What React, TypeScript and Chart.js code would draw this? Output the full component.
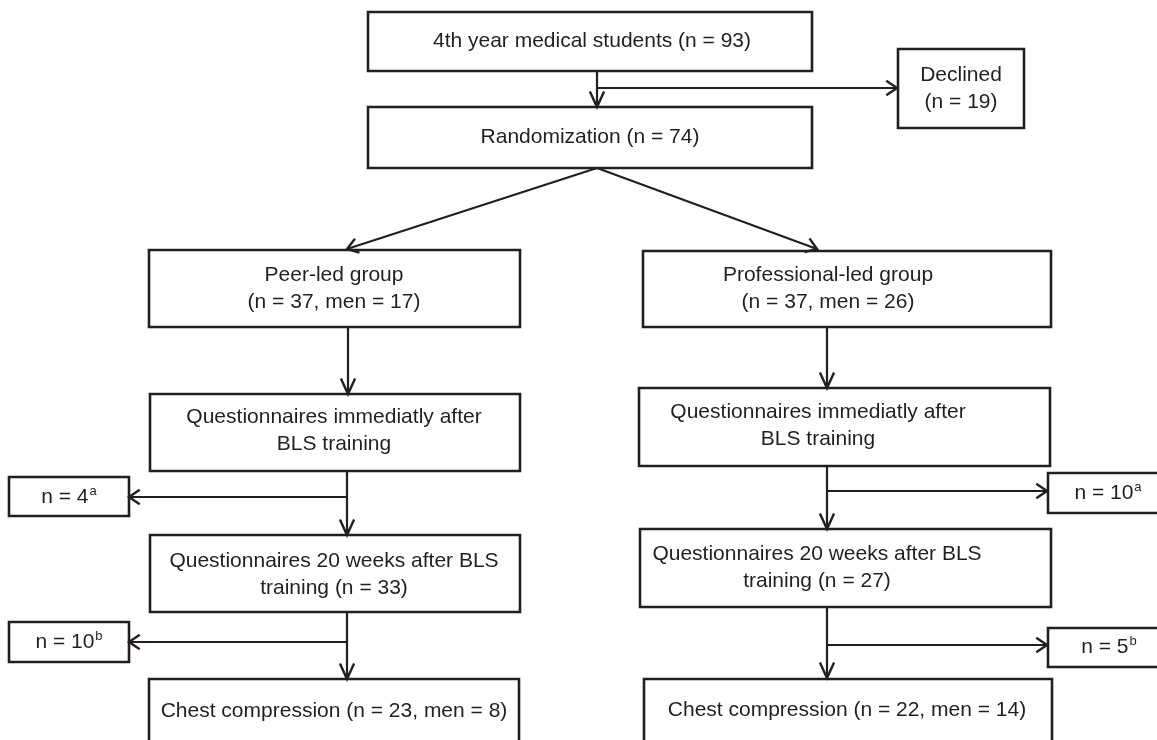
import { useEffect, useRef } from "react";
import { Chart, registerables } from "chart.js";
Chart.register(...registerables);

// ---- Flowchart content (data) ----
const nodeLabels: string[][] = [
  ["4th year medical students (n = 93)"],
  ["Declined", "(n = 19)"],
  ["Randomization (n = 74)"],
  ["Peer-led group", "(n = 37, men = 17)"],
  ["Professional-led group", "(n = 37, men = 26)"],
  ["Questionnaires immediatly after", "BLS training"],
  ["Questionnaires immediatly after", "BLS training"],
  ["n = 4"],
  ["n = 10"],
  ["Questionnaires 20 weeks after BLS", "training (n = 33)"],
  ["Questionnaires 20 weeks after BLS", "training (n = 27)"],
  ["n = 10"],
  ["n = 5"],
  ["Chest compression (n = 23, men = 8)"],
  ["Chest compression (n = 22, men = 14)"],
];
const nodeSup: string[] = ["", "", "", "", "", "", "", "a", "a", "", "", "b", "b", "", ""];

// ---- Layout in chart units (x: 0..1157, y: 0..740 top-down) ----
const nodeLeft: number[] = [368, 898, 368, 149, 643, 150, 639, 9, 1048, 150, 640, 9, 1048, 149, 644];
const nodeRight: number[] = [812, 1024, 812, 520, 1051, 520, 1050, 129, 1172, 520, 1051, 129, 1172, 519, 1052];
const nodeTop: number[] = [12, 49, 107, 250, 251, 394, 388, 477, 473, 535, 529, 622, 628, 679, 679];
const nodeBottom: number[] = [71, 128, 168, 327, 327, 471, 466, 516, 513, 612, 607, 662, 667, 770, 770];
const textCenterX: number[] = [592, 961, 590, 334, 828, 334, 818, 69, 1108, 334, 817, 69, 1109, 334, 847];
const textCenterY: number[] = [41, 88.5, 137.5, 288.5, 288.5, 431, 426, 497, 493, 574.5, 567.5, 642, 647, 711, 710];

// connectors: [x0, y0] -> [x1, y1], each ends with an arrowhead
const edgeX0: number[] = [597, 597, 597, 597, 348, 827, 347, 347, 827, 827, 347, 347, 827, 827];
const edgeY0: number[] = [71, 88, 168, 168, 327, 327, 471, 497, 466, 491, 612, 642, 607, 645];
const edgeX1: number[] = [597, 897, 347, 817, 348, 827, 347, 129, 827, 1047, 347, 129, 827, 1047];
const edgeY1: number[] = [107, 88, 249, 249, 394, 388, 535, 497, 529, 491, 679, 642, 678, 645];

const W = 1157;
const H = 740;
const INK = "#231f20";
const FONT = "'Liberation Sans', Arial, Helvetica, sans-serif";

export default function App() {
  const ref = useRef<HTMLCanvasElement>(null);

  useEffect(() => {
    document.body.style.margin = "0";
    const canvas = ref.current;
    if (!canvas) return;

    const boxSets = nodeLabels.map((_, i) => ({
      data: [
        { x: nodeLeft[i], y: nodeTop[i] },
        { x: nodeRight[i], y: nodeTop[i] },
        { x: nodeRight[i], y: nodeBottom[i] },
        { x: nodeLeft[i], y: nodeBottom[i] },
        { x: nodeLeft[i], y: nodeTop[i] },
      ],
      showLine: true,
      borderColor: INK,
      borderWidth: 2.6,
      borderJoinStyle: "miter" as const,
      borderCapStyle: "square" as const,
      pointRadius: 0,
      pointHoverRadius: 0,
      fill: false,
    }));

    const edgeSets = edgeX0.map((_, i) => ({
      data: [
        { x: edgeX0[i], y: edgeY0[i] },
        { x: edgeX1[i], y: edgeY1[i] },
      ],
      showLine: true,
      borderColor: INK,
      borderWidth: 2.2,
      pointRadius: 0,
      pointHoverRadius: 0,
      fill: false,
    }));

    const overlay = {
      id: "flowOverlay",
      afterDatasetsDraw(chart: any) {
        const ctx = chart.ctx as CanvasRenderingContext2D;
        const xs = chart.scales.x;
        const ys = chart.scales.y;
        ctx.save();
        // arrowheads
        ctx.strokeStyle = INK;
        ctx.lineWidth = 2.4;
        ctx.lineJoin = "miter";
        ctx.lineCap = "butt";
        for (let i = 0; i < edgeX0.length; i++) {
          const ax = xs.getPixelForValue(edgeX0[i]);
          const ay = ys.getPixelForValue(edgeY0[i]);
          const bx = xs.getPixelForValue(edgeX1[i]);
          const by = ys.getPixelForValue(edgeY1[i]);
          const ang = Math.atan2(by - ay, bx - ax);
          const horiz = Math.abs(Math.cos(ang)) > 0.9;
          const len = horiz ? 13 : 17;
          const half = horiz ? 0.6 : 0.43;
          ctx.beginPath();
          ctx.moveTo(bx - len * Math.cos(ang - half), by - len * Math.sin(ang - half));
          ctx.lineTo(bx, by);
          ctx.lineTo(bx - len * Math.cos(ang + half), by - len * Math.sin(ang + half));
          ctx.stroke();
        }
        // labels
        ctx.fillStyle = INK;
        ctx.textBaseline = "middle";
        const lineH = 27;
        for (let i = 0; i < nodeLabels.length; i++) {
          const lines = nodeLabels[i];
          const cx = xs.getPixelForValue(textCenterX[i]);
          const cy = ys.getPixelForValue(textCenterY[i]);
          const startY = cy - ((lines.length - 1) * lineH) / 2;
          lines.forEach((t, k) => {
            const y = startY + k * lineH;
            const sup = k === lines.length - 1 ? nodeSup[i] : "";
            ctx.font = `21px ${FONT}`;
            const mw = ctx.measureText(t).width;
            ctx.font = `13px ${FONT}`;
            const sw = sup ? ctx.measureText(sup).width + 1 : 0;
            const x0 = cx - (mw + sw) / 2;
            ctx.font = `21px ${FONT}`;
            ctx.textAlign = "left";
            ctx.fillText(t, x0, y);
            if (sup) {
              ctx.font = `13px ${FONT}`;
              ctx.fillText(sup, x0 + mw + 1, y - 6);
            }
          });
        }
        ctx.restore();
      },
    };

    const chart = new Chart(canvas, {
      type: "scatter",
      data: { datasets: [...boxSets, ...edgeSets] as any },
      options: {
        animation: false,
        responsive: false,
        devicePixelRatio: 1,
        events: [],
        layout: { padding: 0 },
        scales: {
          x: { type: "linear", min: 0, max: W, display: false },
          y: { type: "linear", min: 0, max: H, reverse: true, display: false },
        },
        plugins: {
          legend: { display: false },
          tooltip: { enabled: false },
        },
      },
      plugins: [overlay],
    });
    return () => chart.destroy();
  }, []);

  return (
    <div style={{ width: W, height: H, background: "#fff" }}>
      <canvas ref={ref} width={W} height={H} style={{ display: "block", width: W, height: H }} />
    </div>
  );
}
